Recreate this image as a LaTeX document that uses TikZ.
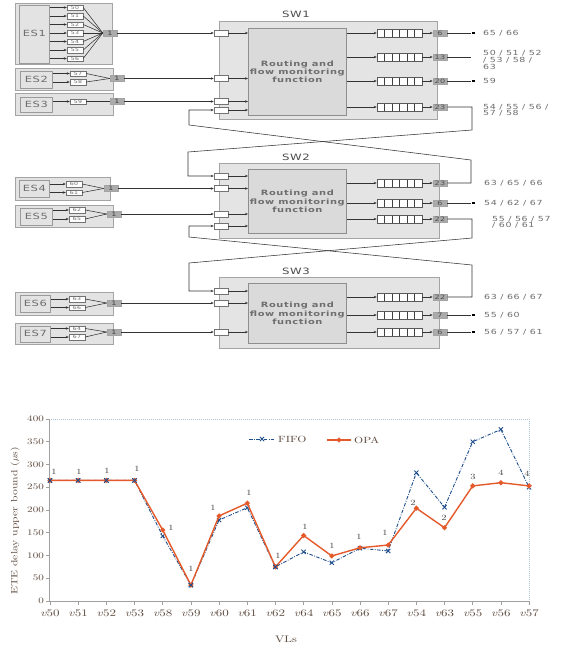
\documentclass[tikz,border=0pt]{standalone}
\usepackage{fontspec}
\newfontfamily\nf[FakeStretch=1.35,LetterSpace=8]{DejaVu Sans}
\newfontfamily\cf[Extension=.otf,FakeStretch=1.3,ItalicFont=lmroman10-italic]{lmroman10-regular}
\usetikzlibrary{arrows.meta}
\definecolor{boxfill}{HTML}{E3E3E3}
\definecolor{boxdraw}{HTML}{A4A4A4}
\definecolor{esindraw}{HTML}{9A9A9A}
\definecolor{swfill}{HTML}{E4E4E4}
\definecolor{routefill}{HTML}{DADADA}
\definecolor{routedraw}{HTML}{8E8E8E}
\definecolor{portfill}{HTML}{ABABAB}
\definecolor{txtgray}{HTML}{6E6E6E}
\definecolor{fifoc}{HTML}{1F4E8C}
\definecolor{opac}{HTML}{E55A2B}
\definecolor{axisc}{HTML}{A0A0A0}
\definecolor{chartxt}{HTML}{5C4A3E}
\definecolor{framec}{HTML}{A9C4D8}
\begin{document}
\begin{tikzpicture}[x=1pt,y=-1pt,
 ln/.style={draw=black!80, line width=0.55pt},
 arr/.style={ln, -{Stealth[length=3pt,width=2.4pt]}},
 esbox/.style={draw=boxdraw, fill=boxfill, line width=0.8pt, anchor=north west, inner sep=0pt},
 esin/.style={draw=esindraw, fill=boxfill, line width=0.7pt, anchor=north west, inner sep=0pt, text=txtgray, font=\fontsize{8.5}{9}\nf},
 vl/.style={draw=black!55, fill=white, line width=0.4pt, minimum width=16pt, minimum height=5.5pt, inner sep=0pt, text=txtgray, font=\fontsize{4.6}{4.6}\nf},
 eport/.style={draw=boxdraw, fill=portfill, line width=0.5pt, minimum width=14pt, minimum height=6pt, inner sep=0pt, text=black!75, font=\fontsize{6}{6}\nf},
 swbox/.style={draw=boxdraw, fill=swfill, line width=0.8pt, anchor=north west, inner sep=0pt},
 route/.style={draw=routedraw, fill=routefill, line width=0.7pt, anchor=north west, inner sep=0pt, align=center, text=txtgray, font=\fontsize{7.3}{6.6}\nf\bfseries},
 inp/.style={draw=black!55, fill=white, line width=0.5pt, minimum width=14pt, minimum height=6pt, inner sep=0pt},
 queue/.style={draw=black!65, fill=white, line width=0.5pt, minimum width=45pt, minimum height=8pt, inner sep=0pt,
   path picture={\foreach \k in {1,...,5}{\draw[line width=0.9pt, black!75] ([xshift=\k*7.5pt]path picture bounding box.north west) -- ([xshift=\k*7.5pt]path picture bounding box.south west);}}},
 oport/.style={draw=boxdraw, fill=portfill, line width=0.5pt, minimum width=14pt, minimum height=6pt, inner sep=0pt, text=black!70, font=\fontsize{6}{6}\nf},
 term/.style={fill=black, minimum width=3pt, minimum height=2.2pt, inner sep=0pt},
 olab/.style={anchor=west, align=left, text=txtgray, font=\fontsize{7}{6.6}\nf, inner sep=0pt},
 swtitle/.style={text=black!70, font=\fontsize{8.7}{9}\nf},
 ytl/.style={anchor=east, text=chartxt, font=\fontsize{8.5}{10}\cf, inner sep=0pt},
 xtl/.style={text=chartxt, font=\fontsize{10}{11}\cf, inner sep=0pt},
 ann/.style={text=black!75, font=\fontsize{8}{9}\cf, inner sep=0pt},
 legt/.style={anchor=west, text=chartxt, font=\fontsize{9}{10}\cf, inner sep=0pt},
 fifo/.style={draw=fifoc, line width=0.9pt, dash pattern=on 3.5pt off 1.5pt on 0.8pt off 1.5pt, mark options={solid, fifoc, line width=0.9pt}, mark size=3pt},
 opa/.style={draw=opac, line width=1.4pt, mark options={solid, fill=opac, draw=opac}, mark size=1.7pt},
]
\fill[white] (0,0) rectangle (565,651);
\useasboundingbox (0,0) rectangle (565,651);

% ---------------- switches ----------------
\node[swbox, minimum width=218pt, minimum height=98pt] (sw1) at (219,21) {};
\node[swtitle] (sw1t) at (296,14.5) {SW1};
\node[route, minimum width=98pt, minimum height=87pt] (r1) at (248,28) {Routing and\\flow monitoring\\function};
\node[swbox, minimum width=220pt, minimum height=75pt] (sw2) at (219,163) {};
\node[swtitle] (sw2t) at (296,157) {SW2};
\node[route, minimum width=98pt, minimum height=64pt] (r2) at (248,169) {Routing and\\flow monitoring\\function};
\node[swbox, minimum width=220pt, minimum height=71pt] (sw3) at (219,277) {};
\node[swtitle] (sw3t) at (296,271.5) {SW3};
\node[route, minimum width=98pt, minimum height=60pt] (r3) at (248,283) {Routing and\\flow monitoring\\function};

% input ports
\node[inp] (i11) at (221,33) {};
\node[inp] (i12) at (221,78.5) {};
\node[inp] (i13) at (221,101.5) {};
\node[inp] (i14) at (221,110) {};
\node[inp] (i21) at (221,176) {};
\node[inp] (i22) at (221,188.5) {};
\node[inp] (i23) at (221,214) {};
\node[inp] (i24) at (221,226) {};
\node[inp] (i31) at (221,291) {};
\node[inp] (i32) at (221,303) {};
\node[inp] (i33) at (221,332) {};
\foreach \p/\r in {i11/r1,i12/r1,i13/r1,i14/r1,i21/r2,i22/r2,i23/r2,i24/r2,i31/r3,i32/r3,i33/r3}
  \draw[arr] (\p.east) -- (\p.east -| \r.west);

% queues and output ports
\foreach \q/\y/\l/\r in {11/33/6/r1,12/57/13/r1,13/81/20/r1,14/107/23/r1,21/183/23/r2,22/203/6/r2,23/219/22/r2,31/297/22/r3,32/315/7/r3,33/332/6/r3}{
  \node[queue] (q\q) at (399.5,\y) {};
  \node[oport] (o\q) at (440,\y) {\l};
  \draw[arr] (\r.east |- q\q.west) -- (q\q.west);
  \draw[arr] (q\q.east) -- (o\q.west);
}
% terminals
\node[term] (t11) at (473,33) {};
\node[term] (t13) at (473,81) {};
\node[term] (t22) at (473,203) {};
\node[term] (t32) at (473,315) {};
\node[term] (t33) at (473,332) {};
\coordinate (c12) at (471,57);
\draw[ln] (o11.east) -- (t11.west);
\draw[ln] (o12.east) -- (c12);
\draw[ln] (o13.east) -- (t13.west);
\draw[ln] (o22.east) -- (t22.west);
\draw[ln] (o32.east) -- (t32.west);
\draw[ln] (o33.east) -- (t33.west);

% output labels
\node[olab] (l11) at (483,33) {65 / 66};
\node[olab, anchor=north west] (l12) at (483,50.5) {50 / 51 / 52\\/ 53 / 58 /\\63};
\node[olab] (l13) at (483,81) {59};
\node[olab, anchor=north west] (l14) at (483,104) {54 / 55 / 56 /\\57 / 58};
\node[olab] (l21) at (484,183) {63 / 65 / 66};
\node[olab] (l22) at (484,203) {54 / 62 / 67};
\node[olab, anchor=north west] (l23) at (492,216) {55 / 56 / 57\\/ 60 / 61};
\node[olab] (l31) at (484,297) {63 / 66 / 67};
\node[olab] (l32) at (484,315) {55 / 60};
\node[olab] (l33) at (484,332) {56 / 57 / 61};

% inter-switch links
\draw[arr] (o14.east) -| (472,130) -- (188,152) |- (i21.west);
\draw[arr] (o21.east) -| (471,160) -- (189,125) |- (i14.west);
\draw[arr] (o23.east) -| (472,238) -- (189,263) |- (i31.west);
\draw[arr] (o31.east) -| (472,265) -- (189,237) |- (i24.west);

% ---------------- end systems ----------------
% ES1
\node[esbox, minimum width=97pt, minimum height=61pt] (es1) at (15,3) {};
\node[esin, minimum width=30pt, minimum height=58pt] (es1i) at (19,4.5) {ES1};
\foreach \v [count=\k from 0] in {50,51,52,53,54,55,56}
  \node[vl] (v\v) at (75,7.5+8.5*\k) {\v};
\node[eport] (pe1) at (110,33) {1};
\foreach \v in {50,51,52,53,54,55,56}{
  \draw[arr] (es1i.east |- v\v.west) -- (v\v.west);
  \draw[ln] (v\v.east) -- (pe1.west);
}
\draw[arr] (pe1.east) -- (i11.west);
% ES2
\node[esbox, minimum width=98pt, minimum height=22pt] (es2) at (15,68) {};
\node[esin, minimum width=32pt, minimum height=17pt] (es2i) at (20,70.5) {ES2};
\node[vl] (v57) at (78,73.5) {57};
\node[vl] (v58) at (78,82) {58};
\node[eport] (pe2) at (117,78.5) {1};
% ES3
\node[esbox, minimum width=98pt, minimum height=22pt] (es3) at (15,93) {};
\node[esin, minimum width=32pt, minimum height=15pt] (es3i) at (20,96.5) {ES3};
\node[vl] (v59) at (78,101.5) {59};
\node[eport] (pe3) at (117,101.5) {1};
% ES4
\node[esbox, minimum width=95pt, minimum height=23pt] (es4) at (15,177) {};
\node[esin, minimum width=30pt, minimum height=17pt] (es4i) at (19,180) {ES4};
\node[vl] (v60) at (74,184) {60};
\node[vl] (v61) at (74,192.5) {61};
\node[eport] (pe4) at (111,188.5) {1};
% ES5
\node[esbox, minimum width=98pt, minimum height=22pt] (es5) at (15,205) {};
\node[esin, minimum width=32pt, minimum height=17pt] (es5i) at (20,207.5) {ES5};
\node[vl] (v62) at (77,210) {62};
\node[vl] (v65) at (77,219) {65};
\node[eport] (pe5) at (114,214) {1};
% ES6
\node[esbox, minimum width=98pt, minimum height=23pt] (es6) at (15,292) {};
\node[esin, minimum width=30pt, minimum height=17pt] (es6i) at (20,295) {ES6};
\node[vl] (v63) at (77,299) {63};
\node[vl] (v66) at (77,307.5) {66};
\node[eport] (pe6) at (114,303) {1};
% ES7
\node[esbox, minimum width=98pt, minimum height=21pt] (es7) at (15,323) {};
\node[esin, minimum width=30pt, minimum height=16pt] (es7i) at (20,325.5) {ES7};
\node[vl] (v64) at (77,328.5) {64};
\node[vl] (v67) at (77,337) {67};
\node[eport] (pe7) at (114,332) {1};
\foreach \e/\vs/\i in {2/{57,58}/i12,3/{59}/i13,4/{60,61}/i22,5/{62,65}/i23,6/{63,66}/i32,7/{64,67}/i33}{
  \foreach \v in \vs {
    \draw[arr] (es\e i.east |- v\v.west) -- (v\v.west);
    \draw[ln] (v\v.east) -- (pe\e.west);
  }
  \draw[arr] (pe\e.east) -- (\i.west);
}

% ---------------- chart ----------------
\begin{scope}[shift={(50,601)}, x=28.18pt, y=0.455pt]
  \draw[framec, line width=0.6pt, dash pattern=on 1pt off 1pt] (-0.035,400) -- (17,400) -- (17,0);
  \draw[axisc, line width=0.7pt] (-0.035,400) -- (-0.035,0) -- (17,0);
  \foreach \v in {0,50,...,400}{
    \draw[axisc, line width=0.6pt] (-0.035,\v) -- ++(-3pt,0);
    \node[ytl] (yt\v) at ([xshift=-5pt]-0.035,\v) {\v};
  }
  \foreach \lab [count=\i from 0] in {50,51,52,53,58,59,60,61,62,64,65,66,67,54,63,55,56,57}{
    \draw[axisc, line width=0.6pt] (\i,0) -- ++(0,-4pt);
    \node[xtl] (xt\i) at ([yshift=-12.5pt]\i,0) {\textit{v}\lab};
  }
  \draw[fifo] plot[mark=x] coordinates {(0,265)(1,265)(2,265)(3,265)(4,143)(5,35)(6,178)(7,205)(8,75)(9,108)(10,84)(11,116)(12,110)(13,282)(14,206)(15,350)(16,377)(17,250)};
  \draw[opa] plot[mark=*] coordinates {(0,265)(1,265)(2,265)(3,265)(4,156)(5,35)(6,187)(7,215)(8,75)(9,144)(10,99)(11,117)(12,123)(13,204)(14,161)(15,253)(16,260)(17,253)};
  \path[fifo] plot[only marks, mark=x] coordinates {(0,265)(1,265)(2,265)(3,265)(5,35)(8,75)};
\end{scope}

% annotations
\foreach \x/\y/\t in {54/472/1,79/472/1,107/471/1,137/469/1,171/528/1,191/569/1,213/508/1,249/493/1,278/556/1,305/527/1,332/546/1,359/537/1,385/533/1,413/503/2,444/518/2,473/477/3,501/473/4,527/474/4}
  \node[ann] at (\x,\y) {\t};

% legend
\draw[fifo] plot[mark=x, mark indices={2}] coordinates {(249,439) (262,439) (275,439)};
\node[legt] (lgf) at (278,439) {FIFO};
\draw[opa] plot[mark=*, mark indices={2}] coordinates {(327,440) (339,440) (351,440)};
\node[legt] (lgo) at (354,440) {OPA};

% axis titles
\node[text=chartxt, font=\fontsize{9}{10}\cf, rotate=90] (ytitle) at (15,521) {ETE delay upper bound ($\mu$s)};
\node[text=chartxt, font=\fontsize{9.5}{10}\cf] (xtitle) at (286,639) {VLs};
\end{tikzpicture}
\end{document}
